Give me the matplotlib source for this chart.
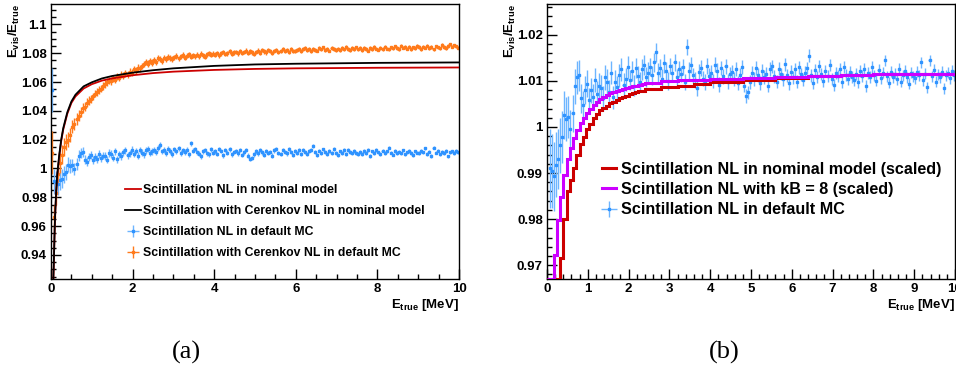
import numpy as np
import matplotlib.pyplot as plt
from matplotlib.ticker import MultipleLocator, FuncFormatter

plt.rcParams['font.family'] = ['Liberation Sans', 'DejaVu Sans']
plt.rcParams['font.weight'] = 'bold'
plt.rcParams['mathtext.fontset'] = 'custom'
plt.rcParams['mathtext.rm'] = 'Liberation Sans:bold'
plt.rcParams['mathtext.bf'] = 'Liberation Sans:bold'
plt.rcParams['mathtext.it'] = 'Liberation Sans:bold'

# ---- MC points, 200 bins of 0.05 MeV ----
e_mc = np.arange(0.025, 10.0, 0.05)

scint_mc = [
    1.0545, 0.9910, 0.9905, 0.9893, 0.9918, 0.9930, 0.9960, 0.9978, 1.0026, 1.0018,
    1.0022, 0.9995, 1.0030, 1.0088, 1.0108, 1.0112, 1.0062, 1.0048, 1.0080, 1.0094,
    1.0058, 1.0080, 1.0066, 1.0102, 1.0072, 1.0090, 1.0085, 1.0062, 1.0108, 1.0098,
    1.0076, 1.0118, 1.0064, 1.0098, 1.0086, 1.0112, 1.0125, 1.0092, 1.0104, 1.0130,
    1.0102, 1.0122, 1.0090, 1.0128, 1.0110, 1.0098, 1.0125, 1.0135, 1.0108, 1.0118,
    1.0130, 1.0112, 1.0140, 1.0162, 1.0118, 1.0128, 1.0105, 1.0138, 1.0122, 1.0100,
    1.0132, 1.0118, 1.0140, 1.0108, 1.0126, 1.0115, 1.0130, 1.0098, 1.0174, 1.0122,
    1.0135, 1.0112, 1.0102, 1.0084, 1.0120, 1.0128, 1.0105, 1.0098, 1.0132, 1.0110,
    1.0118, 1.0100, 1.0135, 1.0122, 1.0092, 1.0128, 1.0110, 1.0132, 1.0098, 1.0115,
    1.0120, 1.0104, 1.0126, 1.0095, 1.0112, 1.0130, 1.0090, 1.0068, 1.0075, 1.0098,
    1.0118, 1.0105, 1.0128, 1.0112, 1.0096, 1.0122, 1.0108, 1.0116, 1.0090, 1.0125,
    1.0132, 1.0110, 1.0098, 1.0126, 1.0115, 1.0104, 1.0136, 1.0112, 1.0095, 1.0120,
    1.0108, 1.0125, 1.0098, 1.0130, 1.0114, 1.0102, 1.0118, 1.0128, 1.0155, 1.0112,
    1.0096, 1.0124, 1.0108, 1.0132, 1.0115, 1.0100, 1.0122, 1.0110, 1.0135, 1.0105,
    1.0092, 1.0118, 1.0110, 1.0126, 1.0098, 1.0130, 1.0112, 1.0104, 1.0120, 1.0108,
    1.0102, 1.0115, 1.0098, 1.0122, 1.0110, 1.0126, 1.0088, 1.0118, 1.0108, 1.0130,
    1.0112, 1.0100, 1.0124, 1.0106, 1.0118, 1.0145, 1.0110, 1.0096, 1.0120, 1.0108,
    1.0116, 1.0104, 1.0126, 1.0098, 1.0112, 1.0122, 1.0108, 1.0094, 1.0118, 1.0110,
    1.0106, 1.0120, 1.0112, 1.0140, 1.0102, 1.0116, 1.0086, 1.0145, 1.0110, 1.0124,
    1.0098, 1.0114, 1.0108, 1.0120, 1.0084, 1.0112, 1.0118, 1.0106, 1.0122, 1.0112,
]

# errors: first 20 bins one by one, then one value per 0.5 MeV
mc_err_low = [
    0.0150, 0.0085, 0.0080, 0.0075, 0.0070, 0.0065, 0.0060, 0.0056, 0.0052, 0.0048,
    0.0045, 0.0042, 0.0040, 0.0038, 0.0036, 0.0034, 0.0032, 0.0031, 0.0030, 0.0029,
]
mc_err_group = [
    0.0027, 0.0025, 0.0022, 0.0020, 0.0018, 0.0017, 0.0016, 0.0015, 0.0015,
    0.0014, 0.0014, 0.0013, 0.0013, 0.0013, 0.0012, 0.0012, 0.0012, 0.0012,
]

cer_mc = [
    1.0110, 0.9660, 0.9830, 0.9960, 1.0040, 1.0095, 1.0150, 1.0185, 1.0200, 1.0235,
    1.0290, 1.0310, 1.0345, 1.0365, 1.0390, 1.0420, 1.0430, 1.0455, 1.0470, 1.0480,
    1.0500, 1.0520, 1.0530, 1.0545, 1.0555, 1.0575, 1.0585, 1.0600, 1.0610, 1.0605,
    1.0625, 1.0615, 1.0640, 1.0630, 1.0650, 1.0645, 1.0660, 1.0655, 1.0670, 1.0665,
    1.0690, 1.0680, 1.0700, 1.0695, 1.0712, 1.0725, 1.0740, 1.0728, 1.0745, 1.0735,
    1.0752, 1.0740, 1.0765, 1.0758, 1.0748, 1.0770, 1.0760, 1.0775, 1.0768, 1.0762,
    1.0772, 1.0780, 1.0765, 1.0778, 1.0788, 1.0770, 1.0782, 1.0792, 1.0775, 1.0785,
    1.0778, 1.0790, 1.0780, 1.0795, 1.0785, 1.0775, 1.0792, 1.0800, 1.0788, 1.0796,
    1.0790, 1.0802, 1.0785, 1.0798, 1.0808, 1.0794, 1.0800, 1.0812, 1.0796, 1.0805,
    1.0810, 1.0798, 1.0815, 1.0802, 1.0808, 1.0818, 1.0800, 1.0812, 1.0806, 1.0795,
    1.0810, 1.0818, 1.0804, 1.0822, 1.0812, 1.0806, 1.0820, 1.0814, 1.0800, 1.0816,
    1.0824, 1.0810, 1.0818, 1.0830, 1.0815, 1.0822, 1.0808, 1.0826, 1.0818, 1.0812,
    1.0820, 1.0832, 1.0816, 1.0826, 1.0838, 1.0820, 1.0828, 1.0815, 1.0830, 1.0822,
    1.0818, 1.0834, 1.0826, 1.0840, 1.0822, 1.0830, 1.0818, 1.0836, 1.0828, 1.0824,
    1.0832, 1.0820, 1.0838, 1.0826, 1.0844, 1.0830, 1.0822, 1.0836, 1.0828, 1.0840,
    1.0826, 1.0834, 1.0822, 1.0838, 1.0830, 1.0818, 1.0835, 1.0828, 1.0842, 1.0832,
    1.0824, 1.0836, 1.0828, 1.0845, 1.0832, 1.0826, 1.0840, 1.0834, 1.0848, 1.0836,
    1.0830, 1.0852, 1.0838, 1.0844, 1.0832, 1.0846, 1.0828, 1.0840, 1.0836, 1.0850,
    1.0842, 1.0830, 1.0846, 1.0838, 1.0852, 1.0836, 1.0844, 1.0826, 1.0848, 1.0840,
    1.0834, 1.0856, 1.0842, 1.0836, 1.0850, 1.0862, 1.0846, 1.0855, 1.0848, 1.0838,
]

# ---- nominal model curves, panel (a) ----
e_model = [0.055, 0.07, 0.085, 0.1, 0.125, 0.15, 0.2, 0.25, 0.3, 0.4, 0.5, 0.6,
           0.8, 1.0, 1.25, 1.5, 2.0, 2.5, 3.0, 4.0, 5.0, 6.0, 8.0, 10.0]
scint_model = [0.920, 0.935, 0.952, 0.966, 0.982, 0.994, 1.008, 1.019, 1.027, 1.038,
               1.0455, 1.050, 1.0555, 1.0585, 1.061, 1.0625, 1.0647, 1.0662, 1.0672,
               1.0684, 1.0691, 1.0695, 1.0699, 1.0701]
cer_model = [0.921, 0.936, 0.953, 0.967, 0.983, 0.995, 1.009, 1.020, 1.028, 1.039,
             1.0465, 1.0512, 1.057, 1.0598, 1.0625, 1.0642, 1.0665, 1.0682, 1.0695,
             1.0712, 1.0722, 1.0727, 1.0733, 1.0736]

# ---- scaled model histograms, panel (b) ----
edges_b = list(np.round(np.arange(0, 2.41, 0.08), 2)) + \
    [2.8, 3.2, 3.6, 4.0, 4.8, 5.6, 6.4, 7.2, 8.0, 9.0, 10.0]
scint_scaled = [
    0.950, 0.950, 0.950, 0.950, 0.9715, 0.9800, 0.9860, 0.9885, 0.9910, 0.9940,
    0.9963, 0.9979, 0.9995, 1.0007, 1.0020, 1.0028, 1.0036, 1.0042, 1.0046, 1.0051,
    1.0055, 1.0059, 1.0062, 1.0065, 1.0068, 1.0071, 1.0073, 1.0075, 1.0077, 1.0079,
    1.0082, 1.0086, 1.0090, 1.0094, 1.0098, 1.0103, 1.0107, 1.0110, 1.0112, 1.0114,
    1.0115,
]
kb8_scaled = [
    0.950, 0.950, 0.9722, 0.9798, 0.9849, 0.9895, 0.9930, 0.9955, 0.9975, 0.9993,
    1.0008, 1.0020, 1.0031, 1.0040, 1.0048, 1.0055, 1.0060, 1.0065, 1.0069, 1.0073,
    1.0076, 1.0079, 1.0081, 1.0083, 1.0085, 1.0087, 1.0089, 1.0090, 1.0092, 1.0093,
    1.0096, 1.0099, 1.0101, 1.0103, 1.0105, 1.0107, 1.0109, 1.0111, 1.0112, 1.0114,
    1.0115,
]

mc_err = mc_err_low + list(np.repeat(mc_err_group, 10))

RED = '#cc0000'
BLUE = '#2f93ff'
BLUE_ERR = '#6db5ff'
ORANGE = '#ff7a1a'
MAGENTA = '#cc00ff'

W, H = 956, 374
fig = plt.figure(figsize=(W / 100, H / 100), dpi=100)
ax_a = fig.add_axes([51 / W, 1 - 279 / H, 408 / W, 275.5 / H])
ax_b = fig.add_axes([547 / W, 1 - 279 / H, 408 / W, 275.5 / H])

ylab = r'$\mathbf{E}_{\mathbf{vis}}\mathbf{/E}_{\mathbf{true}}$'
xlab = r'$\mathbf{E}_{\mathbf{true}}$ [MeV]'
root_fmt = FuncFormatter(lambda v, pos: '%g' % round(v, 6))


def style_ax(ax, xmaj, xmin, ymaj, ymin):
    ax.xaxis.set_major_locator(MultipleLocator(xmaj))
    ax.xaxis.set_minor_locator(MultipleLocator(xmin))
    ax.yaxis.set_major_locator(MultipleLocator(ymaj))
    ax.yaxis.set_minor_locator(MultipleLocator(ymin))
    ax.xaxis.set_major_formatter(root_fmt)
    ax.yaxis.set_major_formatter(root_fmt)
    ax.tick_params(which='both', direction='in', top=False, right=False,
                   labelsize=9.5, pad=3, width=1)
    ax.tick_params(which='major', length=7)
    ax.tick_params(which='minor', length=3.5)
    for s in ax.spines.values():
        s.set_linewidth(1)
    ax.set_ylabel(ylab, loc='top', fontsize=9.5)
    ax.set_xlabel(xlab, loc='right', fontsize=9.5, fontweight='bold')
    ax.yaxis.set_label_coords(-0.07, 1.0)
    ax.xaxis.set_label_coords(1.0, -0.065)


# panel (a)
ax = ax_a
l_red, = ax.plot(e_model, scint_model, color=RED, lw=1.3, zorder=3)
l_blk, = ax.plot(e_model, cer_model, color='black', lw=1.3, zorder=3)
eb_blue = ax.errorbar(e_mc, scint_mc, yerr=mc_err, xerr=0.025, fmt='s', ms=2,
                      color=BLUE, ecolor=BLUE_ERR, elinewidth=1, capsize=0, zorder=2)
eb_or = ax.errorbar(e_mc, cer_mc, yerr=mc_err, xerr=0.025, fmt='s', ms=2,
                    color=ORANGE, ecolor=ORANGE, elinewidth=1, capsize=0, zorder=2)
ax.set_xlim(0, 10)
ax.set_ylim(0.9233, 1.1145)
style_ax(ax, 2, 0.5, 0.02, 0.005)
ax.legend([l_red, l_blk, eb_blue, eb_or],
          ['Scintillation NL in nominal model',
           'Scintillation with Cerenkov NL in nominal model',
           'Scintillation NL in default MC',
           'Scintillation with Cerenkov NL in default MC'],
          loc='upper left', bbox_to_anchor=(0.181, 0.345), frameon=False,
          fontsize=8.8, handlelength=1.3, handletextpad=0.2, labelspacing=0.74,
          borderpad=0, borderaxespad=0)

# panel (b)
ax = ax_b
ylo, yhi = 0.967, 1.0268
ax.errorbar(e_mc, scint_mc, yerr=mc_err, xerr=0.025, fmt='s', ms=2,
            color=BLUE, ecolor=BLUE_ERR, elinewidth=1, capsize=0, zorder=2)
ax.stairs(np.clip(scint_scaled, ylo + 0.0001, None), edges_b, baseline=None,
          color=RED, lw=2.2, zorder=3)
ax.stairs(np.clip(kb8_scaled, ylo + 0.0001, None), edges_b, baseline=None,
          color=MAGENTA, lw=2.2, zorder=4)
h_red, = ax.plot([], [], color=RED, lw=2.2)
h_mag, = ax.plot([], [], color=MAGENTA, lw=2.2)
h_blue = ax.errorbar([], [], yerr=[], xerr=[], fmt='s', ms=2, color=BLUE,
                     ecolor=BLUE_ERR, elinewidth=1, capsize=0)
ax.set_xlim(0, 10)
ax.set_ylim(ylo, yhi)
style_ax(ax, 1, 0.2, 0.01, 0.002)
ax.legend([h_red, h_mag, h_blue],
          ['Scintillation NL in nominal model (scaled)',
           'Scintillation NL with kB = 8 (scaled)',
           'Scintillation NL in default MC'],
          loc='upper left', bbox_to_anchor=(0.135, 0.425), frameon=False,
          fontsize=11.6, handlelength=0.87, handletextpad=0.3, labelspacing=0.32,
          borderpad=0, borderaxespad=0)

fig.text(186 / W, 1 - 352 / H, '(a)', family='Liberation Serif', weight='normal',
         fontsize=19, ha='center', va='center')
fig.text(724 / W, 1 - 352 / H, '(b)', family='Liberation Serif', weight='normal',
         fontsize=19, ha='center', va='center')

fig.savefig('out.png', dpi=100)
